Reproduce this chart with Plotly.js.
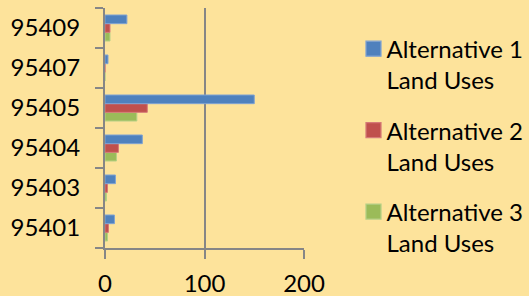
<!DOCTYPE html>
<html>
<head>
<meta charset="utf-8">
<script src="https://cdn.plot.ly/plotly-3.0.1.min.js"></script>
<style>
html,body{margin:0;padding:0;background:#FDE39B;}
#chart{width:529px;height:296px;}
</style>
</head>
<body>
<div id="chart"></div>
<script>
const categories = ['95401', '95403', '95404', '95405', '95407', '95409'];
const alt1 = [9.5, 10.5, 37.5, 150, 3, 22];
const alt2 = [3.5, 2.5, 13.5, 42.5, 0, 5];
const alt3 = [2.5, 1.5, 11.5, 32, 0, 5];
const seriesNames = ['Alternative 1<br>Land Uses', 'Alternative 2<br>Land Uses', 'Alternative 3<br>Land Uses'];
const xTicks = [0, 100, 200];

const FONT = 'Lato, "Open Sans", sans-serif';
const colors = ['#4F81BD', '#C0504D', '#9BBB59'];
const edges = ['#7FA3D3', '#D67A77', '#B5D086'];
const vals = [alt1, alt2, alt3];

const traces = [2, 1, 0].map(i => ({
  type: 'bar',
  orientation: 'h',
  y: categories,
  x: vals[i],
  name: seriesNames[i],
  legendgroup: 'g' + i,
  legendrank: i + 1,
  marker: {color: colors[i], line: {color: edges[i], width: 1}},
  hoverinfo: 'x+y'
}));

const layout = {
  width: 529, height: 296,
  paper_bgcolor: '#FDE39B',
  plot_bgcolor: 'rgba(0,0,0,0)',
  margin: {l: 105, r: 225, t: 8, b: 48},
  barmode: 'group',
  bargap: 0.35,
  bargroupgap: 0,
  font: {family: FONT, size: 24, color: '#000'},
  xaxis: {
    range: [0, 200], tickvals: xTicks, ticktext: xTicks.map(String),
    showgrid: true, gridcolor: '#868686', gridwidth: 2,
    showline: true, linecolor: '#868686', linewidth: 2,
    ticks: 'outside', ticklen: 9, tickwidth: 2, tickcolor: '#868686',
    zeroline: false, fixedrange: true,
    tickfont: {family: FONT, size: 24, color: '#000'},
    ticklabelstandoff: 4
  },
  yaxis: {
    type: 'category', categoryorder: 'array', categoryarray: categories,
    showline: true, linecolor: '#868686', linewidth: 2,
    ticks: 'outside', tickson: 'boundaries', ticklen: 8, tickwidth: 2, tickcolor: '#868686',
    showgrid: false, zeroline: false, fixedrange: true,
    tickfont: {family: FONT, size: 24, color: '#000'},
    ticklabelstandoff: 18
  },
  legend: {
    xref: 'container', yref: 'container',
    x: 0.655, y: 0.91, xanchor: 'left', yanchor: 'top',
    traceorder: 'grouped', tracegroupgap: 16,
    valign: 'top',
    maxheight: 290,
    bgcolor: 'rgba(0,0,0,0)',
    font: {family: FONT, size: 24, color: '#000'}
  },
  showlegend: true
};

function enlargeLegendSymbols() {
  document.querySelectorAll('#chart .legend .legendpoints path').forEach(p => {
    p.setAttribute('transform', 'translate(27,0) scale(1.25)');
  });
}

Plotly.newPlot('chart', traces, layout, {displayModeBar: false, staticPlot: true}).then(enlargeLegendSymbols);
</script>
</body>
</html>
